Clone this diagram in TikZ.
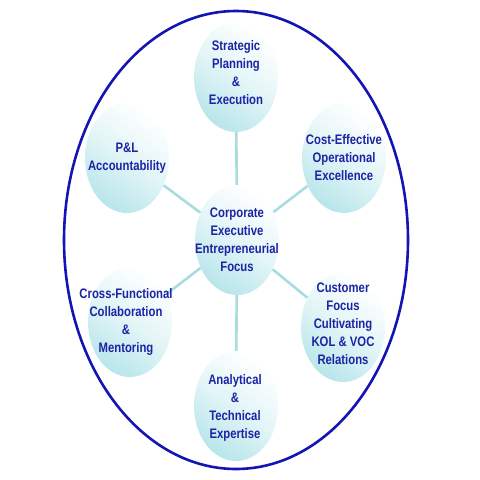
\documentclass[tikz,border=0pt]{standalone}
\usepackage{fontspec}
\setmainfont{Liberation Sans}[FakeStretch=0.82]
\usetikzlibrary{shapes.geometric}
\definecolor{ringblue}{RGB}{20,20,180}
\definecolor{txtblue}{RGB}{28,36,165}
\definecolor{linkcyan}{RGB}{168,220,224}
\definecolor{ballcyan}{RGB}{185,230,235}
\tikzset{
  topic/.style={ellipse, minimum width=84pt, minimum height=110pt, inner sep=0pt,
    top color=white, bottom color=ballcyan, middle color=ballcyan!40, shading angle=-35},
  words/.style={text=txtblue, align=center, inner sep=0pt,
    font=\fontsize{13.8pt}{18pt}\selectfont\bfseries},
  link/.style={draw=linkcyan, line width=2.6pt},
  ring/.style={draw=ringblue, line width=2.6pt}
}
\begin{document}
\begin{tikzpicture}[x=1pt,y=-1pt]
\useasboundingbox (0,0) rectangle (480,480);
\draw[ring] (236,240) ellipse [x radius=172, y radius=229];
\node[topic] (c) at (237,240) {};
\node[topic] (t) at (236,77) {};
\node[topic] (tr) at (344,158) {};
\node[topic] (tl) at (127,158) {};
\node[topic] (bl) at (130,322) {};
\node[topic] (br) at (343,327) {};
\node[topic] (b) at (236,406) {};
\foreach \n in {t,tr,tl,bl,br,b} \draw[link] (c) -- (\n);
\node[words] (ct) at (237,240) {Corporate\\Executive\\Entrepreneurial\\Focus};
\node[words] (tt) at (236,73) {Strategic\\Planning\\\&\\Execution};
\node[words] (trt) at (344,158) {Cost-Effective\\Operational\\Excellence};
\node[words] (tlt) at (127,158) {P\&L\\Accountability};
\node[words] (blt) at (126,322) {Cross-Functional\\Collaboration\\\&\\Mentoring};
\node[words] (brt) at (343,324) {Customer\\Focus\\Cultivating\\KOL \& VOC\\Relations};
\node[words] (bt) at (235,408) {Analytical\\\&\\Technical\\Expertise};
\end{tikzpicture}
\end{document}
